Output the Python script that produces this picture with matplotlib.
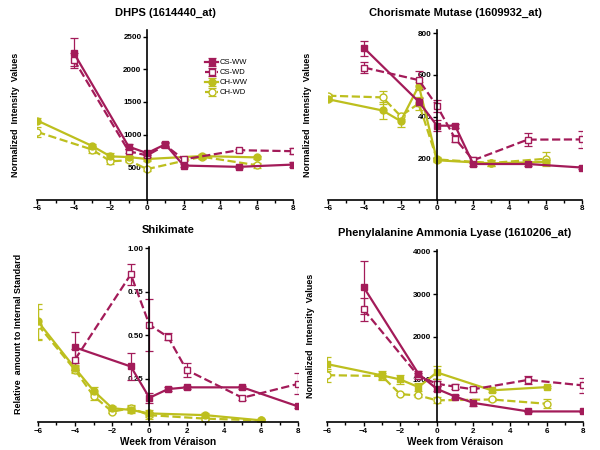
import matplotlib
matplotlib.use("Agg")
import matplotlib.pyplot as plt
from matplotlib.ticker import MultipleLocator

plt.rcParams['font.family'] = ['Liberation Sans', 'DejaVu Sans']
plt.rcParams['font.weight'] = 'bold'

MAGENTA = '#A31B59'
YELLOW = '#BDBF1E'

# DHPS (1614440_at)
dhps_cs_x = [-4, -1, 0, 1, 2, 5, 8]
dhps_csww = [2250, 815, 715, 850, 525, 505, 540]
dhps_csww_err = [230, 40, 30, 30, 20, 20, 40]
dhps_cswd = [2150, 745, 680, 835, 620, 760, 745]
dhps_cswd_err = [100, 30, 30, 30, 25, 20, 50]
dhps_ch_x = [-6, -3, -2, -1, 0, 3, 6]
dhps_chww = [1215, 825, 665, 655, 625, 670, 650]
dhps_chww_err = [40, 30, 50, 20, 30, 25, 20]
dhps_chwd = [1040, 770, 590, 605, 470, 660, 530]
dhps_chwd_err = [70, 50, 40, 30, 30, 30, 40]

# Chorismate Mutase (1609932_at)
cm_cs_x = [-4, -1, 0, 1, 2, 5, 8]
cm_csww = [727, 471, 356, 356, 172, 172, 155]
cm_csww_err = [38, 20, 25, 10, 12, 8, 8]
cm_cswd = [635, 575, 451, 294, 190, 289, 290]
cm_cswd_err = [25, 45, 30, 15, 15, 30, 40]
cm_ch_x = [-6, -3, -2, -1, 0, 3, 6]
cm_chww = [483, 429, 378, 548, 190, 175, 182]
cm_chww_err = [10, 40, 30, 20, 10, 15, 10]
cm_chwd = [500, 492, 402, 463, 194, 177, 197]
cm_chwd_err = [10, 30, 15, 30, 10, 15, 35]

# Shikimate
sh_cs_x = [-4, -1, 0, 1, 2, 5, 8]
sh_csww = [0.43, 0.32, 0.14, 0.19, 0.20, 0.20, 0.09]
sh_csww_err = [0.09, 0.08, 0.03, 0.01, 0.01, 0.01, 0.01]
sh_cswd = [0.36, 0.85, 0.56, 0.49, 0.30, 0.14, 0.22]
sh_cswd_err = [0.06, 0.06, 0.15, 0.02, 0.04, 0.01, 0.06]
sh_ch_x = [-6, -4, -3, -2, -1, 0, 3, 6]
sh_chww = [0.58, 0.31, 0.18, 0.08, 0.07, 0.05, 0.04, 0.01]
sh_chww_err = [0.10, 0.02, 0.02, 0.01, 0.02, 0.02, 0.01, 0.01]
sh_chwd = [0.56, 0.30, 0.15, 0.06, 0.08, 0.04, 0.02, 0.01]
sh_chwd_err = [0.09, 0.02, 0.02, 0.01, 0.02, 0.02, 0.01, 0.01]

# Phenylalanine Ammonia Lyase (1610206_at)
pal_cs_x = [-4, -1, 0, 1, 2, 5, 8]
pal_csww = [3165, 1130, 780, 600, 450, 250, 250]
pal_csww_err = [620, 60, 60, 40, 80, 20, 20]
pal_cswd = [2640, 1080, 900, 830, 770, 990, 860]
pal_cswd_err = [270, 60, 60, 60, 60, 100, 180]
pal_ch_x = [-6, -3, -2, -1, 0, 3, 6]
pal_chww = [1360, 1095, 1000, 820, 1165, 745, 820]
pal_chww_err = [160, 100, 100, 90, 150, 40, 30]
pal_chwd = [1100, 1080, 655, 625, 510, 530, 430]
pal_chwd_err = [150, 60, 30, 30, 70, 30, 100]

panels = [
    dict(title='DHPS (1614440_at)', rect=[0.062, 0.556, 0.427, 0.377],
         ylim=2600, ystep=500, yfmt='{:.0f}', ylabel='Normalized  Intensity  Values', ylx=-0.066,
         cs_x=dhps_cs_x, csww=dhps_csww, csww_e=dhps_csww_err, cswd=dhps_cswd, cswd_e=dhps_cswd_err,
         ch_x=dhps_ch_x, chww=dhps_chww, chww_e=dhps_chww_err, chwd=dhps_chwd, chwd_e=dhps_chwd_err,
         chww_m='o', xlabel=False, ymin_label=500),
    dict(title='Chorismate Mutase (1609932_at)', rect=[0.547, 0.556, 0.423, 0.377],
         ylim=815, ystep=200, yfmt='{:.0f}', ylabel='Normalized  Intensity  Values', ylx=-0.063,
         cs_x=cm_cs_x, csww=cm_csww, csww_e=cm_csww_err, cswd=cm_cswd, cswd_e=cm_cswd_err,
         ch_x=cm_ch_x, chww=cm_chww, chww_e=cm_chww_err, chwd=cm_chwd, chwd_e=cm_chwd_err,
         chww_m='o', xlabel=False, ymin_label=200),
    dict(title='Shikimate', rect=[0.063, 0.062, 0.434, 0.390],
         ylim=1.01, ystep=0.25, yfmt='{:.2f}', ylabel='Relative  amount to Internal Standard', ylx=-0.058,
         cs_x=sh_cs_x, csww=sh_csww, csww_e=sh_csww_err, cswd=sh_cswd, cswd_e=sh_cswd_err,
         ch_x=sh_ch_x, chww=sh_chww, chww_e=sh_chww_err, chwd=sh_chwd, chwd_e=sh_chwd_err,
         chww_m='o', xlabel=True, ymin_label=0.25),
    dict(title='Phenylalanine Ammonia Lyase (1610206_at)', rect=[0.545, 0.062, 0.427, 0.382],
         ylim=4030, ystep=1000, yfmt='{:.0f}', ylabel='Normalized  Intensity  Values', ylx=-0.047,
         cs_x=pal_cs_x, csww=pal_csww, csww_e=pal_csww_err, cswd=pal_cswd, cswd_e=pal_cswd_err,
         ch_x=pal_ch_x, chww=pal_chww, chww_e=pal_chww_err, chwd=pal_chwd, chwd_e=pal_chwd_err,
         chww_m='s', xlabel=True, ymin_label=1000),
]

fig = plt.figure(figsize=(6, 4.5), dpi=100)

for p in panels:
    ax = fig.add_axes(p['rect'])
    eb = dict(capsize=3, elinewidth=0.9, capthick=0.9, markersize=5, lw=1.6)
    ax.errorbar(p['ch_x'], p['chwd'], yerr=p['chwd_e'], color=YELLOW, ls='--', marker='o',
                mfc='white', mec=YELLOW, label='CH-WD', **eb)
    ax.errorbar(p['ch_x'], p['chww'], yerr=p['chww_e'], color=YELLOW, ls='-', marker=p['chww_m'],
                label='CH-WW', **eb)
    ax.errorbar(p['cs_x'], p['cswd'], yerr=p['cswd_e'], color=MAGENTA, ls='--', marker='s',
                mfc='white', mec=MAGENTA, label='CS-WD', **eb)
    ax.errorbar(p['cs_x'], p['csww'], yerr=p['csww_e'], color=MAGENTA, ls='-', marker='s',
                label='CS-WW', **eb)

    ax.set_xlim(-6, 8)
    ax.set_ylim(0, p['ylim'])
    ax.spines['top'].set_visible(False)
    ax.spines['right'].set_visible(False)
    ax.spines['left'].set_position(('data', 0))
    ax.spines['left'].set_linewidth(1.2)
    ax.spines['bottom'].set_linewidth(1.2)
    ax.xaxis.set_major_locator(MultipleLocator(2))
    ax.xaxis.set_minor_locator(MultipleLocator(1))
    yt = []
    v = p['ymin_label']
    while v <= p['ylim'] + 1e-9:
        yt.append(v)
        v += p['ystep']
    ax.set_yticks(yt)
    ax.set_yticklabels([p['yfmt'].format(t) for t in yt])
    ax.tick_params(axis='both', which='major', labelsize=5.8, length=3, width=1, pad=1)
    ax.tick_params(axis='x', which='minor', length=2.5, width=1)
    ax.set_title(p['title'], fontsize=8, fontweight='bold', pad=10)
    ax.set_ylabel(p['ylabel'], fontsize=6.5, fontweight='bold')
    ax.yaxis.set_label_coords(p['ylx'], 0.5)
    if p['xlabel']:
        ax.set_xlabel('Week from Véraison', fontsize=7.2, fontweight='bold', labelpad=2)
    if p['title'].startswith('DHPS'):
        h, l = ax.get_legend_handles_labels()
        ax.legend(h[::-1], l[::-1], loc='upper left', bbox_to_anchor=(0.63, 0.87), frameon=False,
                  prop={'size': 5.5, 'weight': 'normal'}, handlelength=1.6, labelspacing=0.35,
                  handletextpad=0.2)

fig.savefig('out.png', dpi=100)
